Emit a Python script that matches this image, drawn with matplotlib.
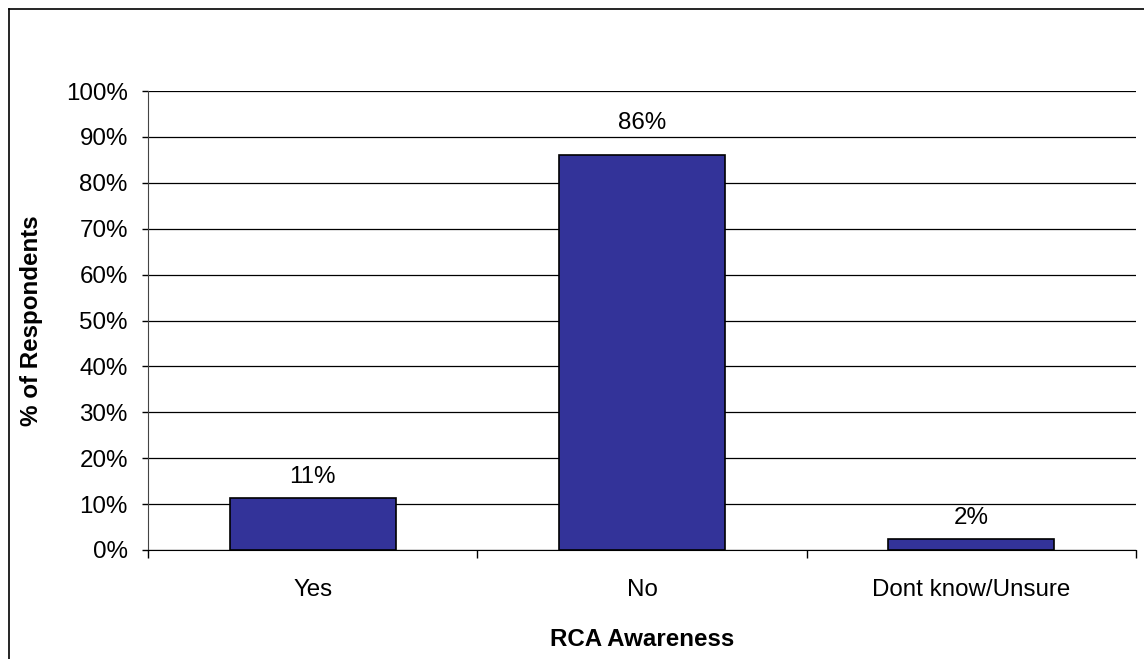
import matplotlib.pyplot as plt
from matplotlib.lines import Line2D
from matplotlib.ticker import PercentFormatter

plt.rcParams['font.family'] = ['Liberation Sans', 'DejaVu Sans']

# data
categories = ["Yes", "No", "Dont know/Unsure"]
values = [11.4, 86.1, 2.5]
value_labels = ["11%", "86%", "2%"]
label_offsets = [10.8, 18.5, 10.8]  # points above bar top

FS = 17.4

fig = plt.figure(figsize=(11.44, 6.59), dpi=100)
ax = fig.add_axes([148 / 1144, 1 - 550 / 659, (1136 - 148) / 1144, (550 - 91) / 659])

x = range(len(categories))
bars = ax.bar(x, values, width=0.505, color='#333399', edgecolor='black', linewidth=1.2, zorder=3)

for b, lab, off in zip(bars, value_labels, label_offsets):
    ax.annotate(lab, (b.get_x() + b.get_width() / 2, b.get_height()),
                xytext=(0, off), textcoords='offset points',
                ha='center', va='baseline', fontsize=FS)

ax.set_xlim(-0.5, 2.5)
ax.set_ylim(0, 100)
ax.set_yticks(range(0, 101, 10))
ax.yaxis.set_major_formatter(PercentFormatter(decimals=0))
ax.yaxis.grid(True, color='black', linewidth=0.9, zorder=0)

ax.set_xticks(list(x))
ax.set_xticklabels(categories)
ax.set_xticks([-0.5, 0.5, 1.5, 2.5], minor=True)
ax.tick_params(axis='x', which='major', length=0, pad=21, labelsize=FS)
ax.tick_params(axis='x', which='minor', length=6, width=1, direction='out')
ax.tick_params(axis='y', length=4.5, width=1, direction='out', pad=10, labelsize=FS)

for s in ['top', 'right']:
    ax.spines[s].set_visible(False)
ax.spines['left'].set_color('#444444')
ax.spines['bottom'].set_color('black')

ax.set_ylabel("% of Respondents", fontsize=FS, fontweight='bold')
ax.set_xlabel("RCA Awareness", fontsize=FS, fontweight='bold')
ax.yaxis.label.set_va('center')
ax.xaxis.label.set_va('center')
ax.yaxis.set_label_coords((32 - 148) / 988, 0.5)
ax.xaxis.set_label_coords(0.5, (550 - 640) / 459)

# outer chart border (cut off at right and bottom)
fig.add_artist(Line2D([8.5 / 1144, 8.5 / 1144], [0, 1 - 8.5 / 659], color='black', linewidth=1.2))
fig.add_artist(Line2D([8.5 / 1144, 1], [1 - 8.5 / 659, 1 - 8.5 / 659], color='black', linewidth=1.2))

fig.savefig("out.png", dpi=100)
